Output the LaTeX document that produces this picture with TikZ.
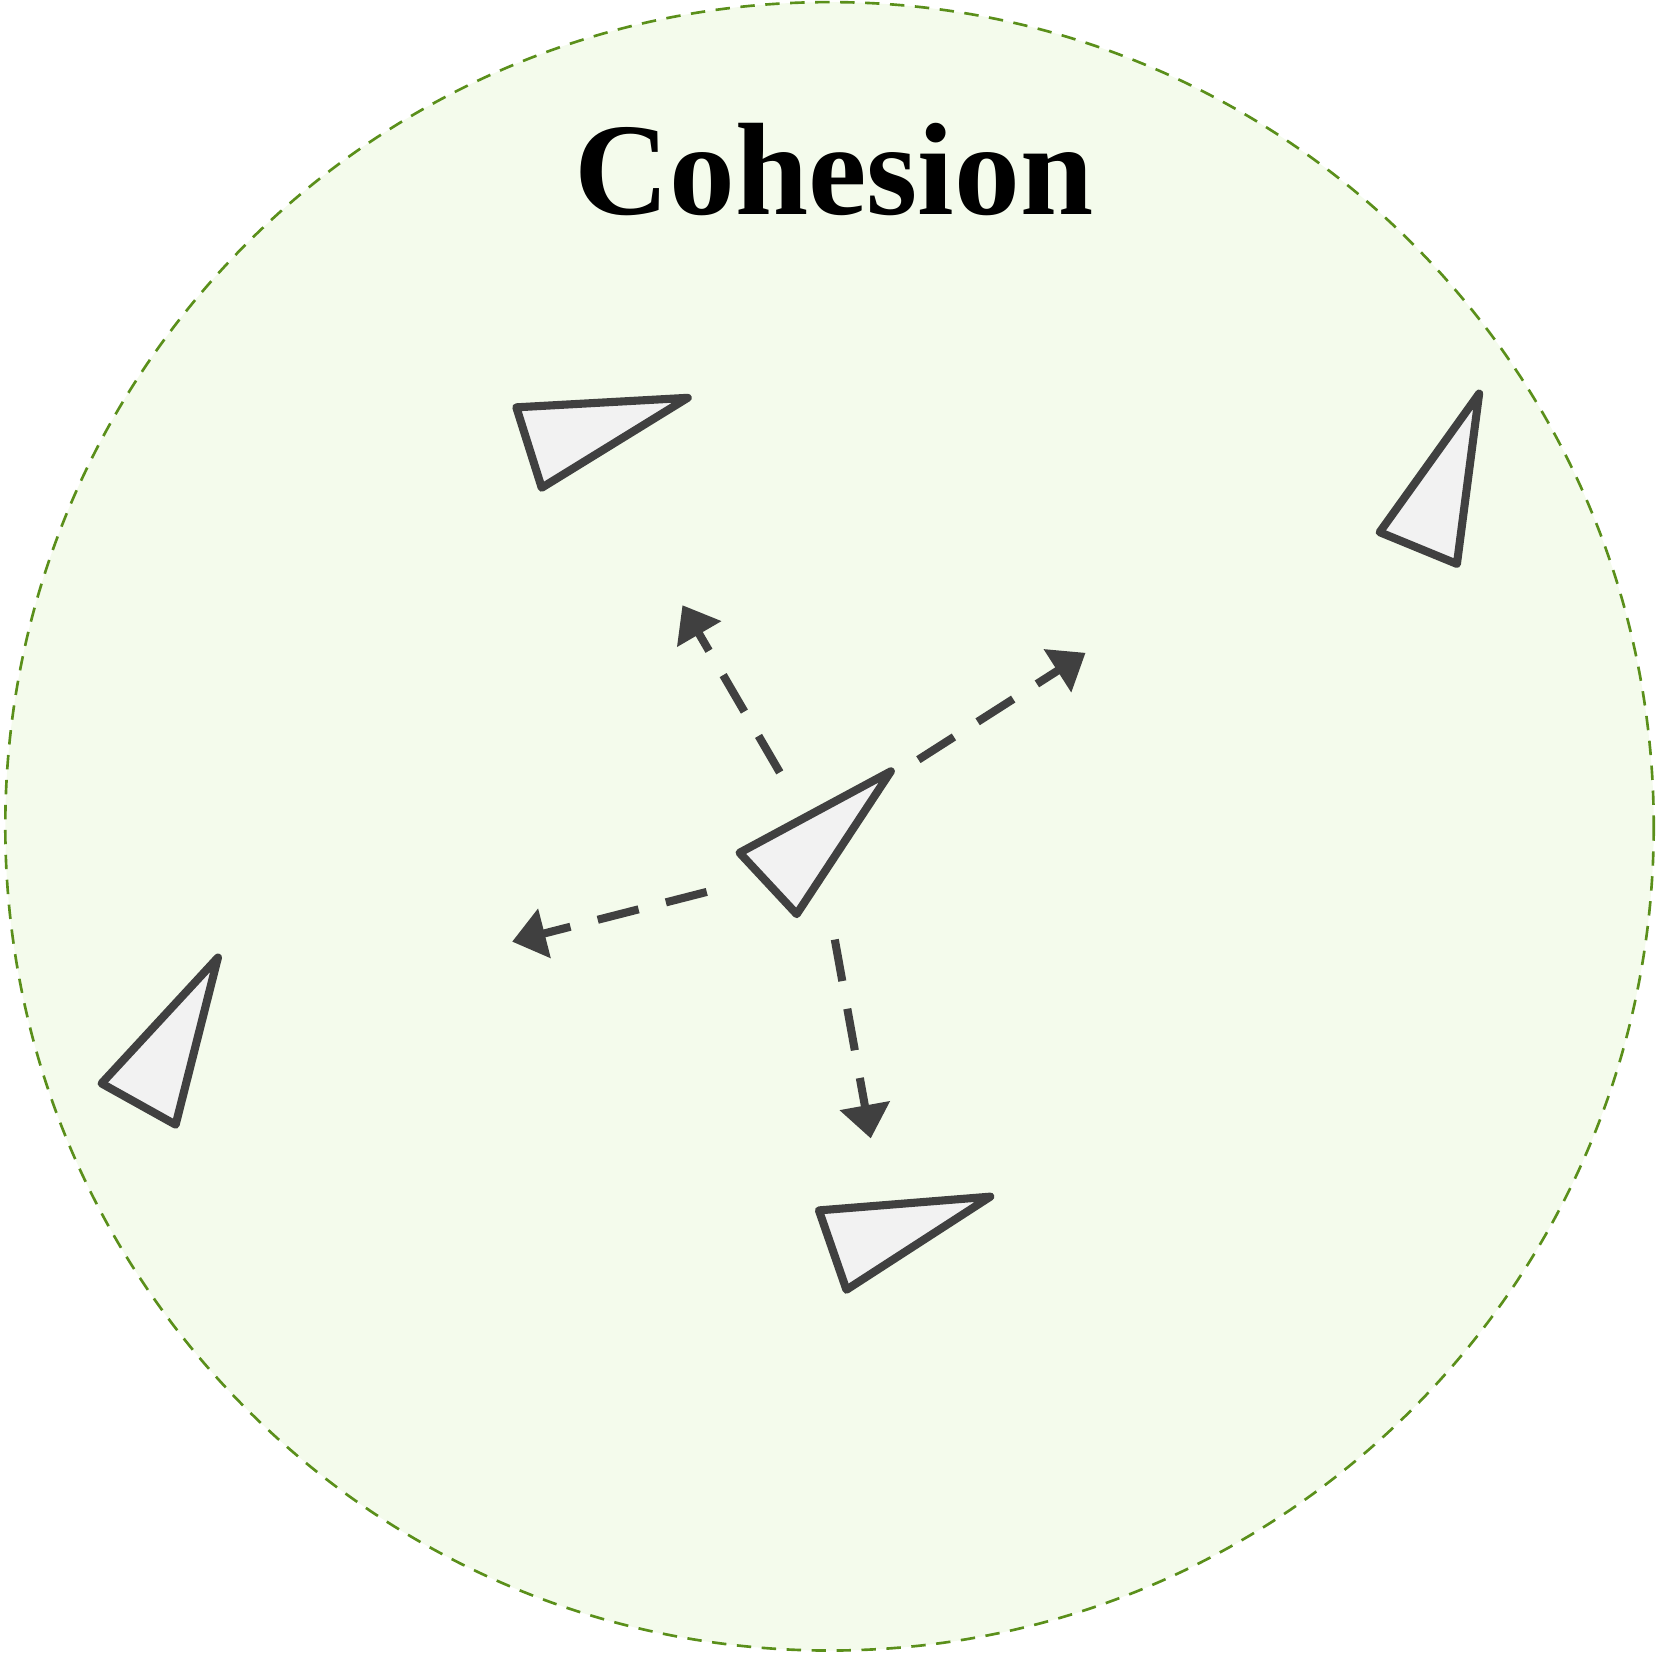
\documentclass[tikz,border=0pt]{standalone}
\usepackage{fontspec}
\setmainfont{Liberation Serif}
\usetikzlibrary{arrows.meta}
\definecolor{zonefill}{RGB}{244,251,236}
\definecolor{zoneline}{RGB}{90,143,26}
\definecolor{ink}{RGB}{64,64,64}
\definecolor{boidfill}{RGB}{242,242,242}
\tikzset{
  boid/.style={draw=ink, fill=boidfill, line width=2.3pt, line join=round},
  pull/.style={draw=ink, line width=2.3pt, dash pattern=on 12pt off 8pt,
    -{Triangle[length=9.5pt,width=14pt]}},
}
\begin{document}
\begin{tikzpicture}[x=0.01058cm,y=-0.01058cm]
\useasboundingbox (0,0) rectangle (1568,1563);
\fill[zonefill] (784,781) circle[radius=779];
\draw[zoneline, line width=0.75pt, dash pattern=on 4.1pt off 3pt] (784,781) circle[radius=779];
\node[font=\fontsize{37.4}{42}\selectfont\bfseries, anchor=base, inner sep=0pt] (title) at (788,203) {Cohesion};
% boids
\draw[boid] (488,385) -- (650,376) -- (512,461) -- cycle;
\draw[boid] (1398,372) -- (1377,533) -- (1304,503) -- cycle;
\draw[boid] (206,905) -- (166,1063) -- (96,1024) -- cycle;
\draw[boid] (774,1144) -- (936,1131) -- (800,1219) -- cycle;
\draw[boid] (842,729) -- (753,864) -- (699,806) -- cycle;
% arrow ends
\coordinate (s1) at (737,730); \coordinate (e1) at (645,572);
\coordinate (s2) at (868,718); \coordinate (e2) at (1026,617);
\coordinate (s3) at (668,843); \coordinate (e3) at (484,890);
\coordinate (s4) at (789,888); \coordinate (e4) at (823,1076);
\draw[pull] (s1) -- (e1);
\draw[pull] (s2) -- (e2);
\draw[pull] (s3) -- (e3);
\draw[pull] (s4) -- (e4);
\end{tikzpicture}
\end{document}
